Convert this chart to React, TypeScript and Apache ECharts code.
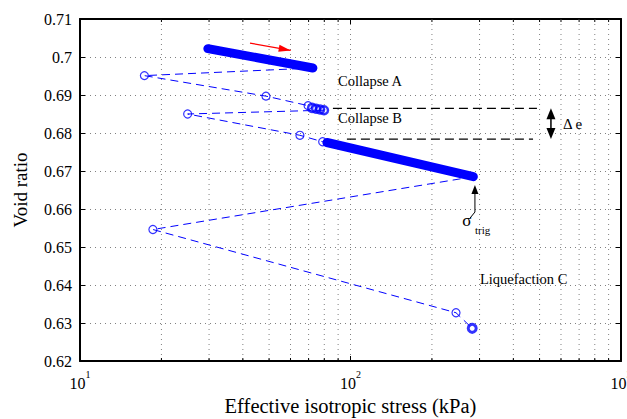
import React, { useEffect, useRef } from "react";
import * as echarts from "echarts";

// Axis ranges and tick positions
const X_MIN = 10;
const X_MAX = 1000;
const Y_MIN = 0.62;
const Y_MAX = 0.71;
const Y_STEP = 0.01;
const MINOR_X = [20, 30, 40, 50, 60, 70, 80, 90, 200, 300, 400, 500, 600, 700, 800, 900];

// Path of the test: [effective stress (kPa), void ratio]
const LOAD_A = [[29.7, 0.7022], [72.6, 0.6971]];
const CYCLE_A = [[72.6, 0.6971], [17.3, 0.6951], [48.7, 0.6897], [69.7, 0.6872], [72.1, 0.6866]];
const COLLAPSE_A = [[72.1, 0.6866], [74.6, 0.6864], [77.2, 0.6862], [79.8, 0.686]];
const CYCLE_B = [[79.8, 0.686], [25.0, 0.685], [65.0, 0.6794], [78.9, 0.6777], [81.8, 0.6775]];
const LOAD_B = [[81.8, 0.6775], [284.6, 0.6685]];
const CYCLE_C = [[284.6, 0.6685], [18.6, 0.6546], [245.5, 0.6327], [281.8, 0.6286]];
const OPEN_CIRCLES = [
  [17.3, 0.6951], [48.7, 0.6897], [69.7, 0.6872],
  [25.0, 0.685], [65.0, 0.6794], [78.9, 0.6777],
  [18.6, 0.6546], [245.5, 0.6327],
];
const FINAL_STATE = [[281.8, 0.6286]];

// Void ratio levels bracketing the collapse B step (Δe)
const DELTA_E_TOP = [[86.1, 0.6865], [488.9, 0.6865]];
const DELTA_E_BOTTOM = [[97.0, 0.6784], [473.0, 0.6784]];

const SERIF = "'Liberation Serif', 'Times New Roman', serif";
const BLUE = "#0000ff";

function head(tip: number[], from: number[], len: number, half: number): number[][] {
  const dx = tip[0] - from[0];
  const dy = tip[1] - from[1];
  const d = Math.hypot(dx, dy) || 1;
  const ux = dx / d;
  const uy = dy / d;
  const bx = tip[0] - ux * len;
  const by = tip[1] - uy * len;
  return [tip, [bx - uy * half, by + ux * half], [bx + uy * half, by - ux * half]];
}

export default function App() {
  const ref = useRef<HTMLDivElement>(null);

  useEffect(() => {
    document.body.style.margin = "0";
    if (!ref.current) return;
    const chart = echarts.init(ref.current, undefined, { renderer: "svg" });

    const dotted = { color: "#808080", width: 1, type: [1, 4] as number[] };
    const axisLine = { show: true, onZero: false, lineStyle: { color: "#000", width: 2 } };
    const tick = { show: true, inside: true, length: 5, lineStyle: { color: "#000", width: 1 } };

    chart.setOption({
      animation: false,
      backgroundColor: "#fff",
      grid: {
        left: 80,
        right: 6,
        top: 19,
        bottom: 58,
        containLabel: false,
        outerBoundsMode: "none",
      },
      xAxis: [
        {
          type: "log",
          logBase: 10,
          min: X_MIN,
          max: X_MAX,
          position: "bottom",
          axisLine,
          axisTick: tick,
          splitLine: { show: true, lineStyle: dotted },
          axisLabel: {
            margin: 8,
            formatter: (v: number) => `{b|10}{s|${Math.round(Math.log10(v))}}`,
            rich: {
              b: { fontFamily: SERIF, fontSize: 16, color: "#000", lineHeight: 22, verticalAlign: "bottom" },
              s: { fontFamily: SERIF, fontSize: 10, color: "#000", lineHeight: 10, verticalAlign: "top" },
            },
          },
          name: "Effective isotropic stress (kPa)",
          nameLocation: "middle",
          nameGap: 28,
          nameTextStyle: { fontFamily: SERIF, fontSize: 20.5, color: "#000" },
        },
        {
          type: "log",
          logBase: 10,
          min: X_MIN,
          max: X_MAX,
          position: "top",
          axisLine,
          axisTick: tick,
          splitLine: { show: false },
          axisLabel: { show: false },
        },
      ],
      yAxis: [
        {
          type: "value",
          min: Y_MIN,
          max: Y_MAX,
          interval: Y_STEP,
          position: "left",
          axisLine,
          axisTick: tick,
          splitLine: { show: true, lineStyle: dotted },
          axisLabel: { margin: 8, fontFamily: SERIF, fontSize: 16, color: "#000" },
          name: "Void ratio",
          nameLocation: "middle",
          nameGap: 50,
          nameTextStyle: { fontFamily: SERIF, fontSize: 19, color: "#000" },
        },
        {
          type: "value",
          min: Y_MIN,
          max: Y_MAX,
          interval: Y_STEP,
          position: "right",
          axisLine,
          axisTick: tick,
          splitLine: { show: false },
          axisLabel: { show: false },
        },
      ],
      series: [
        {
          // minor logarithmic grid lines with their small ticks on both edges
          type: "custom",
          silent: true,
          z: 1,
          xAxisIndex: 0,
          yAxisIndex: 0,
          data: MINOR_X.map((v) => [v, Y_MIN]),
          encode: { x: 0, y: 1 },
          renderItem: (_p: any, api: any) => {
            const v = api.value(0);
            const top = api.coord([v, Y_MAX]);
            const bot = api.coord([v, Y_MIN]);
            return {
              type: "group",
              children: [
                {
                  type: "line",
                  shape: { x1: top[0], y1: top[1], x2: bot[0], y2: bot[1] },
                  style: { stroke: "#808080", lineWidth: 1, lineDash: [1, 4] },
                },
                {
                  type: "line",
                  shape: { x1: bot[0], y1: bot[1], x2: bot[0], y2: bot[1] - 3 },
                  style: { stroke: "#000", lineWidth: 1 },
                },
                {
                  type: "line",
                  shape: { x1: top[0], y1: top[1], x2: top[0], y2: top[1] + 3 },
                  style: { stroke: "#000", lineWidth: 1 },
                },
              ],
            };
          },
        },
        {
          type: "line",
          data: DELTA_E_TOP,
          symbol: "none",
          lineStyle: { color: "#000", width: 1.2, type: [9, 5] },
        },
        {
          type: "line",
          data: DELTA_E_BOTTOM,
          symbol: "none",
          lineStyle: { color: "#000", width: 1.2, type: [9, 5] },
        },
        ...[CYCLE_A, CYCLE_B, CYCLE_C].map((d) => ({
          type: "line",
          data: d,
          symbol: "none",
          lineStyle: { color: BLUE, width: 1, type: [8, 5] },
        })),
        ...[LOAD_A, LOAD_B].map((d) => ({
          type: "line",
          data: d,
          symbol: "none",
          lineStyle: { color: BLUE, width: 9, cap: "round" },
        })),
        {
          type: "scatter",
          data: OPEN_CIRCLES,
          symbol: "circle",
          symbolSize: 8,
          itemStyle: { color: "rgba(0,0,0,0)", borderColor: BLUE, borderWidth: 1.2 },
        },
        {
          type: "scatter",
          data: COLLAPSE_A,
          symbol: "circle",
          symbolSize: 8,
          itemStyle: { color: "rgba(0,0,0,0)", borderColor: BLUE, borderWidth: 2.5 },
        },
        {
          type: "scatter",
          data: FINAL_STATE,
          symbol: "circle",
          symbolSize: 8,
          itemStyle: { color: "rgba(0,0,0,0)", borderColor: BLUE, borderWidth: 3 },
        },
      ],
    });

    // annotations, anchored in data coordinates
    const px = (x: number, y: number) =>
      chart.convertToPixel({ xAxisIndex: 0, yAxisIndex: 0 }, [x, y]) as number[];

    const text = (x: number, y: number, t: string, size: number, align = "left") => ({
      type: "text",
      x: px(x, y)[0],
      y: px(x, y)[1],
      z: 20,
      style: {
        text: t,
        fontFamily: SERIF,
        fontSize: size,
        fill: "#000",
        align,
        verticalAlign: "middle",
      },
    });

    const redFrom = px(42.5, 0.70367);
    const redTo = px(60.1, 0.70172);
    const deTop = px(550.8, 0.6865);
    const deBot = px(550.8, 0.6784);
    const sTip = px(288.4, 0.66631);
    const sKnee = px(288.4, 0.6592);
    const sEnd = px(276.6, 0.65761);

    chart.setOption({
      graphic: [
        text(89.9, 0.6938, "Collapse A", 14.5),
        text(89.9, 0.6839, "Collapse B", 14.5),
        text(301, 0.6416, "Liquefaction C", 14.5),
        text(610.5, 0.6825, "Δ e", 15),
        text(268.9, 0.6571, "σ", 17, "center"),
        text(288.4, 0.6546, "trig", 11),
        {
          type: "line",
          z: 20,
          shape: { x1: redFrom[0], y1: redFrom[1], x2: redTo[0], y2: redTo[1] },
          style: { stroke: "#ff0000", lineWidth: 1.2 },
        },
        {
          type: "polygon",
          z: 20,
          shape: { points: head(redTo, redFrom, 12, 3.5) },
          style: { fill: "#ff0000" },
        },
        {
          type: "line",
          z: 20,
          shape: { x1: deTop[0], y1: deTop[1] + 6, x2: deBot[0], y2: deBot[1] - 6 },
          style: { stroke: "#000", lineWidth: 1.5 },
        },
        {
          type: "polygon",
          z: 20,
          shape: { points: head(deTop, deBot, 11, 4.5) },
          style: { fill: "#000" },
        },
        {
          type: "polygon",
          z: 20,
          shape: { points: head(deBot, deTop, 11, 4.5) },
          style: { fill: "#000" },
        },
        {
          type: "polyline",
          z: 20,
          shape: { points: [sEnd, sKnee, [sTip[0], sTip[1] + 6]] },
          style: { stroke: "#000", lineWidth: 1, fill: "none" },
        },
        {
          type: "polygon",
          z: 20,
          shape: { points: head(sTip, sKnee, 9, 3.5) },
          style: { fill: "#000" },
        },
      ],
    });

    return () => chart.dispose();
  }, []);

  return (
    <div
      ref={ref}
      style={{ position: "fixed", left: 0, top: 0, width: 627, height: 419, background: "#fff" }}
    />
  );
}
